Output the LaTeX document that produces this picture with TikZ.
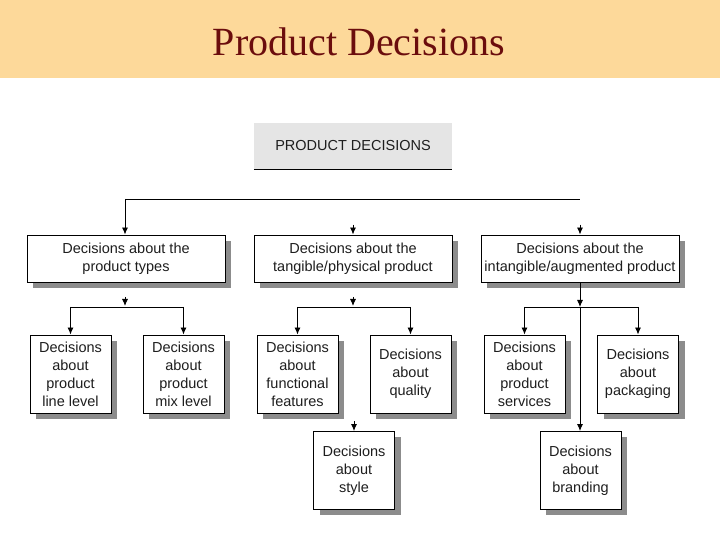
\documentclass[tikz,border=0pt]{standalone}
\usepackage{fontspec}
\setmainfont{Liberation Serif}
\setsansfont{Liberation Sans}
\usetikzlibrary{positioning,shadows,arrows.meta}
\definecolor{bannerbg}{HTML}{FDD99A}
\definecolor{titlered}{HTML}{6B0D0D}
\definecolor{inkgray}{HTML}{1E1E1E}
\begin{document}
\begin{tikzpicture}[x=1pt, y=1pt,
    banner/.style={fill=bannerbg, draw=none},
    head/.style={rectangle, fill=black!10, minimum width=198pt, minimum height=46pt, font=\sffamily\fontsize{14.5}{18}\selectfont, text=inkgray},
    wide/.style={rectangle, draw, line width=0.9pt, fill=white, minimum width=198pt, minimum height=47pt, align=center, font=\sffamily\fontsize{14.5}{18}\selectfont, text=inkgray, drop shadow={shadow xshift=6pt, shadow yshift=-6pt, fill=black!45, opacity=1}},
    small/.style={rectangle, draw, line width=0.9pt, fill=white, minimum width=81pt, minimum height=78pt, align=center, font=\sffamily\fontsize{14.5}{18}\selectfont, text=inkgray, drop shadow={shadow xshift=6pt, shadow yshift=-6pt, fill=black!45, opacity=1}},
    arr/.style={-{Latex[length=7pt,width=6pt]}, line width=0.9pt},
    link/.style={line width=0.9pt}]
    \useasboundingbox (0,0) rectangle (720,540);
    \fill [banner] (0,462) rectangle (720,540);
    \node [text=titlered, font=\rmfamily\fontsize{40}{44}\selectfont] (title) at (359,498) {Product Decisions};

    \node [head] (pd) at (353,394) {PRODUCT DECISIONS};
    \draw [link] (pd.south west) -- (pd.south east);

    \node [wide] (typeA) at (126,281.5) {Decisions about the\\product types};
    \node [wide, right of=typeA, node distance=227pt] (typeB) {Decisions about the\\tangible/physical product};
    \node [wide, right of=typeB, node distance=227pt] (typeC) {Decisions about the\\intangible/augmented product};

    \node [small] (lineA) at (70.5,166) {Decisions\\about\\product\\line level};
    \node [small, right of=lineA, node distance=113pt] (mixA) {Decisions\\about\\product\\mix level};
    \node [small] (funcB) at (297.5,166) {Decisions\\about\\functional\\features};
    \node [small, right of=funcB, node distance=113pt] (qualB) {Decisions\\about\\quality};
    \node [small] (servC) at (524.5,166) {Decisions\\about\\product\\services};
    \node [small, right of=servC, node distance=113.5pt] (packC) {Decisions\\about\\packaging};
    \node [small] (styleB) at (354,69.5) {Decisions\\about\\style};
    \node [small] (brandC) at (580.5,69.5) {Decisions\\about\\branding};

    % first split
    \coordinate (topL) at (125,341);
    \coordinate (topR) at (580,341);
    \draw [link] (topL) -- (topR);
    \draw [arr] (topL) -- (topL |- typeA.north);
    \draw [arr] ([yshift=10pt]typeB.north) -- (typeB.north);
    \draw [arr] ([yshift=10pt]typeC.north) -- (typeC.north);

    % product types
    \coordinate (jA) at (125,233);
    \draw [arr] ([yshift=10pt]jA) -- ([yshift=1pt]jA);
    \draw [link] (jA -| lineA) -- (jA -| mixA);
    \draw [arr] (jA -| lineA) -- (lineA);
    \draw [arr] (jA -| mixA) -- (mixA);

    % tangible product
    \coordinate (jB) at (353,233);
    \draw [arr] ([yshift=10pt]jB) -- ([yshift=1pt]jB);
    \draw [link] (jB -| funcB) -- (jB -| qualB);
    \draw [arr] (jB -| funcB) -- (funcB);
    \draw [arr] (jB -| qualB) -- (qualB);
    \draw [arr] ([yshift=10pt]styleB.north) -- (styleB);

    % intangible product
    \coordinate (jC) at (580,233);
    \draw [arr] (jC |- typeC.south) -- (jC);
    \draw [link] (jC -| servC) -- (jC -| packC);
    \draw [arr] (jC -| servC) -- (servC);
    \draw [arr] (jC -| packC) -- (packC);
    \draw [arr] (jC) -- (jC |- brandC.north);
\end{tikzpicture}
\end{document}
